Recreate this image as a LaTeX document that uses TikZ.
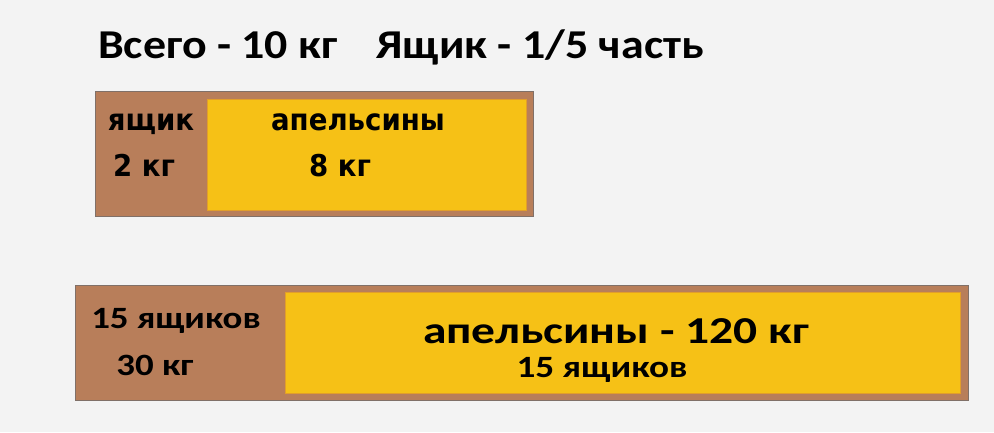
\documentclass[tikz,border=0pt]{standalone}
\usepackage{fontspec}
\setmainfont{Carlito}
\newfontfamily\wideface{DejaVu Sans}
\usetikzlibrary{positioning}
\definecolor{CrateBrown}{RGB}{184,126,90}
\definecolor{CrateEdge}{RGB}{128,112,104}
\definecolor{OrangeFill}{RGB}{246,193,22}
\definecolor{OrangeEdge}{RGB}{226,158,42}
\definecolor{PageGrey}{RGB}{243,243,243}

\begin{document}
\begin{tikzpicture}[x=1pt,y=-1pt,
	crate/.style={draw=CrateEdge, fill=CrateBrown, line width=1.2pt, anchor=north west, inner sep=0pt},
	fruit/.style={draw=OrangeEdge, fill=OrangeFill, line width=1.2pt, anchor=north west, inner sep=0pt},
	title/.style={font=\bfseries\fontsize{41}{44}\selectfont, xscale=1.12, anchor=base west, inner sep=0pt},
	small/.style={font=\wideface\bfseries\fontsize{30}{32}\selectfont, xscale=0.92, anchor=base, inner sep=0pt},
	big/.style 2 args={font=\bfseries\fontsize{#1}{#1}\selectfont, xscale=#2, anchor=base, inner sep=0pt},
	]
	\fill[PageGrey] (0,0) rectangle (994,432);
	\useasboundingbox (0,0) rectangle (994,432);

	% heading
	\node[title] (total) at (98,58) {Всего - 10 кг\hspace{0.85em}Ящик - 1/5 часть};

	% one crate
	\node[crate, minimum width=438pt, minimum height=125pt] (one) at (95,91) {};
	\node[fruit, minimum width=319pt, minimum height=111pt] (oneOr) at (207,99) {};
	\node[small] (oneBox) at (151,130) {ящик};
	\node[small] (oneBoxKg) at (144,176) {2 кг};
	\node[small] (oneOrName) at (358,130) {апельсины};
	\node[small] (oneOrKg) at (340,176) {8 кг};

	% fifteen crates
	\node[crate, minimum width=893pt, minimum height=115pt] (all) at (75,285) {};
	\node[fruit, minimum width=675pt, minimum height=101pt] (allOr) at (285,292) {};
	\node[big={31}{1.19}] (allBox) at (176,328) {15 ящиков};
	\node[big={31}{1.19}] (allBoxKg) at (155,375) {30 кг};
	\node[big={38}{1.25}] (allOrName) at (616,343) {апельсины - 120 кг};
	\node[big={31}{1.2}] (allOrCount) at (602,377) {15 ящиков};
\end{tikzpicture}
\end{document}
